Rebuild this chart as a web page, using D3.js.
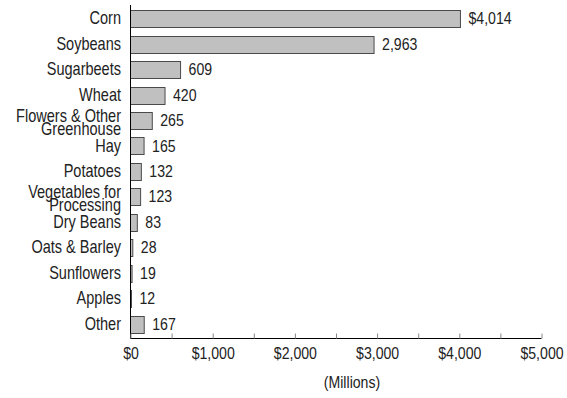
<!DOCTYPE html>
<html><head><meta charset="utf-8">
<script src="https://cdn.jsdelivr.net/npm/d3@7/dist/d3.min.js"></script>
<style>
body{margin:0;background:#fff;}
text{font-family:"Liberation Sans","Arial",sans-serif;fill:#222;}
</style></head>
<body><svg id="c" width="567" height="398"></svg>
<script>
const categories = ["Corn","Soybeans","Sugarbeets","Wheat","Flowers & Other\nGreenhouse","Hay","Potatoes","Vegetables for\nProcessing","Dry Beans","Oats & Barley","Sunflowers","Apples","Other"];
const values = [4014,2963,609,420,265,165,132,123,83,28,19,12,167];
const valueLabels = ["$4,014","2,963","609","420","265","165","132","123","83","28","19","12","167"];
const tickValues = [0,1000,2000,3000,4000,5000];
const tickLabels = ["$0","$1,000","$2,000","$3,000","$4,000","$5,000"];
const minorTicks = [500,1500,2500,3500,4500];
const axisTitle = "(Millions)";

const svg = d3.select("#c");
const x = d3.scaleLinear().domain([0,5000]).range([130.5,541.5]);
const y = d3.scaleBand().domain(categories).range([5,338]).paddingInner(0.33).paddingOuter(0.2);
const axisY = 338.5;
const SX = 0.83;

function narrow(px, py, str, size, anchor){
  return svg.append("text")
    .attr("transform",`translate(${px},${py}) scale(${SX},1)`)
    .attr("text-anchor",anchor||"start")
    .attr("font-size",size)
    .text(str);
}

// bars
svg.selectAll("rect.bar").data(values).enter().append("rect")
  .attr("class","bar")
  .attr("x", x(0))
  .attr("y", (d,i)=>Math.round(y(categories[i]))+0.5)
  .attr("width", d=>x(d)-x(0))
  .attr("height", Math.round(y.bandwidth()))
  .attr("fill","#c0c0c0").attr("stroke","#4a4a4a").attr("stroke-width",1);

// value labels
values.forEach((d,i)=>{
  narrow(x(d)+8, y(categories[i])+y.bandwidth()/2+5.5, valueLabels[i], 17);
});

// category labels
categories.forEach((c,i)=>{
  const cy = y(c)+y.bandwidth()/2;
  const lines = c.split("\n");
  if(lines.length===1){
    narrow(121, cy+5.5, lines[0], 17.5, "end");
  } else {
    lines.forEach((l,j)=>narrow(121, cy+1+j*13, l, 17.5, "end"));
  }
});

// y axis line
svg.append("line").attr("x1",130.5).attr("x2",130.5).attr("y1",5).attr("y2",axisY).attr("stroke","#000");

// x axis
const xAxis = d3.axisBottom(x).tickValues(tickValues.concat(minorTicks)).tickSize(-5)
  .tickFormat(d=>{const k=tickValues.indexOf(d);return k>=0?tickLabels[k]:"";});
const g = svg.append("g").attr("transform",`translate(0,${axisY})`).call(xAxis);
g.select(".domain").attr("stroke","#000").attr("d",`M${x(0)},0H${x(5000)}`);
g.selectAll(".tick line").attr("stroke","#888");
g.selectAll(".tick text").attr("font-size",17).attr("font-family",null).attr("fill","#222")
  .attr("y",0).attr("dy",null).attr("transform",`translate(0,20) scale(${SX},1)`);

narrow(352, 388, axisTitle, 17, "middle");
</script></body></html>
